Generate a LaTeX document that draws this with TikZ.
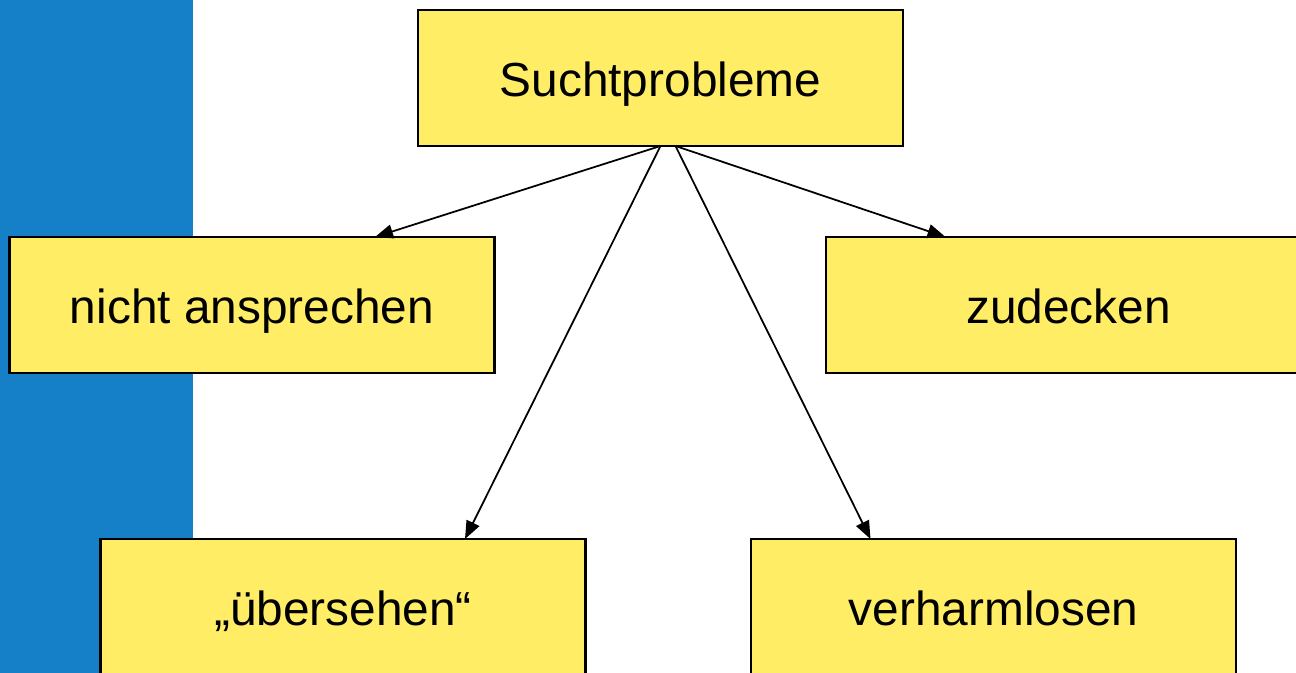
\documentclass[tikz,border=0pt]{standalone}
\usepackage{fontspec}
\setmainfont{Liberation Sans}
\usetikzlibrary{arrows.meta}
\definecolor{boxyellow}{RGB}{255,237,102}
\definecolor{bandblue}{RGB}{21,128,200}
\begin{document}
\begin{tikzpicture}[
    every node/.style={font=\fontsize{13.6pt}{16pt}\selectfont},
    topic/.style={draw, line width=0.6pt, fill=boxyellow, minimum width=4.85cm, minimum height=1.36cm, text height=0.5cm, text depth=0.12cm, inner sep=0pt, outer sep=0pt},
    link/.style={-{Triangle[length=0.18cm, width=0.14cm]}, line width=0.5pt}
]
    \useasboundingbox (0,0) rectangle (12.96,6.73);
    \fill[bandblue] (0,0) rectangle (1.93,6.73);
    \node[topic] (problems) at (6.605,5.95) {Suchtprobleme};
    \node[topic] (silence) at (2.52,3.68) {nicht ansprechen};
    \node[topic] (cover) at (10.685,3.68) {zudecken};
    \node[topic] (overlook) at (3.43,0.66) {„übersehen“};
    \node[topic] (downplay) at (9.935,0.66) {verharmlosen};
    \draw[link] (problems.south) -- ([xshift=1.23cm]silence.north);
    \draw[link] (problems.south) -- ([xshift=1.22cm]overlook.north);
    \draw[link] ([xshift=0.15cm]problems.south) -- ([xshift=-1.23cm]downplay.north);
    \draw[link] ([xshift=0.15cm]problems.south) -- ([xshift=-1.23cm]cover.north);
\end{tikzpicture}
\end{document}
